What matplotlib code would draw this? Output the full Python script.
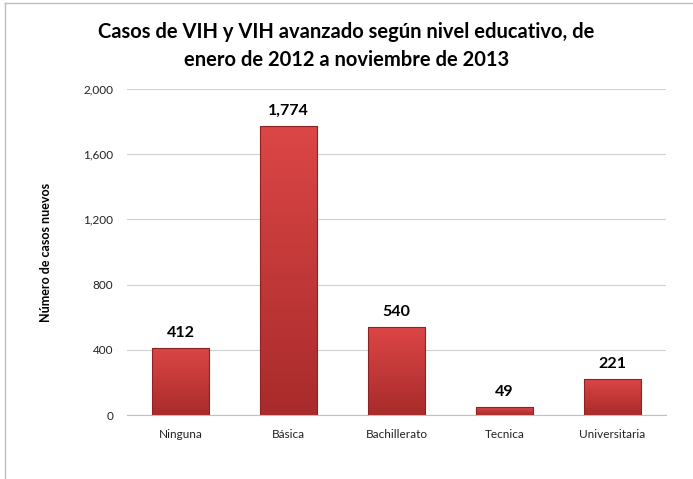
import matplotlib.pyplot as plt
import numpy as np
from matplotlib.colors import LinearSegmentedColormap
from matplotlib.ticker import FuncFormatter

categorias = ["Ninguna", "Básica", "Bachillerato", "Tecnica", "Universitaria"]
casos = [412, 1774, 540, 49, 221]
titulo = "Casos de VIH y VIH avanzado según nivel educativo, de\nenero de 2012 a noviembre de 2013"

plt.rcParams['font.family'] = ['Lato', 'DejaVu Sans']

fig = plt.figure(figsize=(6.93, 4.79), dpi=100)
ax = fig.add_axes([127 / 693, 1 - 415 / 479, (666 - 127) / 693, (415 - 89) / 479])

x = np.arange(len(categorias))
barras = ax.bar(x, casos, width=0.53, color="none", edgecolor="#8e2222", linewidth=0.8, zorder=3)

# degradado rojo dentro de cada barra
cmap = LinearSegmentedColormap.from_list("rojo", ["#a92b2b", "#dc4646"])
grad = np.linspace(0, 1, 256).reshape(-1, 1)
for b in barras:
    x0, y0 = b.get_x(), b.get_y()
    w, h = b.get_width(), b.get_height()
    im = ax.imshow(grad, cmap=cmap, aspect="auto", origin="lower",
                   extent=[x0, x0 + w, y0, y0 + h], zorder=2)
    im.set_clip_path(b)

for xi, v in zip(x, casos):
    ax.text(xi, v + 50, f"{v:,}", ha="center", va="bottom", fontsize=11.5, fontweight="bold")

ax.set_xlim(-0.5, len(categorias) - 0.5)
ax.set_ylim(0, 2000)
ax.set_yticks(range(0, 2001, 400))
ax.yaxis.set_major_formatter(FuncFormatter(lambda v, p: f"{int(v):,}"))
ax.set_xticks(x)
ax.set_xticklabels(categorias)
ax.tick_params(axis="both", length=0, labelsize=8.5, colors="#222222")
ax.tick_params(axis="y", pad=10)
ax.tick_params(axis="x", pad=10)
ax.grid(axis="y", color="#d0d0d0", linewidth=0.8, zorder=0)
for s in ["top", "right", "left"]:
    ax.spines[s].set_visible(False)
ax.spines["bottom"].set_color("#bfbfbf")

ax.set_ylabel("Número de casos nuevos", fontsize=9, fontweight="bold", labelpad=22)

fig.text(0.5, 1 - 46 / 479, titulo, ha="center", va="center", fontsize=14.5,
         fontweight="bold", linespacing=1.45)

# marco del gráfico
fig.add_artist(plt.Line2D([5 / 693, 1], [1 - 3 / 479, 1 - 3 / 479], color="#bdbdbd", lw=1))
fig.add_artist(plt.Line2D([5 / 693, 5 / 693], [0, 1 - 3 / 479], color="#bdbdbd", lw=1))

fig.savefig("out.png", dpi=100)
